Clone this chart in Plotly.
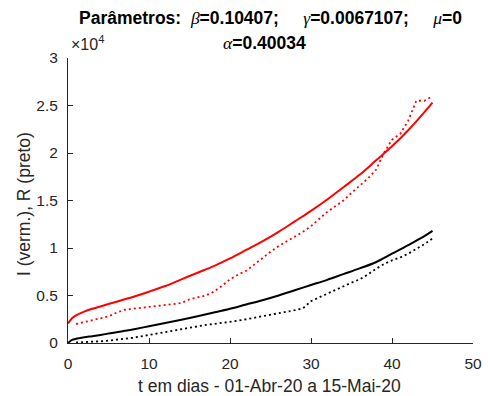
import plotly.graph_objects as go

# ---- Data ----
t_data = list(range(1, 46))
I_data = [2000, 2200, 2400, 2600, 2800, 3200, 3500, 3600, 3700, 3800,
          3900, 4000, 4100, 4200, 4600, 4800, 5000, 5400, 6000, 6700,
          7200, 7600, 8300, 8900, 9600, 10200, 10700, 11200, 11700, 12300,
          13100, 13800, 14400, 15000, 15800, 16500, 17300, 18200, 20000, 21400,
          22000, 23400, 25500, 25500, 26000]
R_data = [50, 80, 120, 180, 250, 330, 420, 550, 700, 850,
          1050, 1200, 1350, 1500, 1650, 1800, 1900, 2000, 2100, 2200,
          2350, 2500, 2650, 2800, 2950, 3100, 3250, 3450, 3650, 4400,
          4800, 5200, 5600, 6000, 6350, 6700, 7200, 7800, 8300, 8700,
          9000, 9400, 9900, 10400, 11000]

t_model = [0, 0.5, 1, 2, 3, 4, 5, 6, 7, 8, 10, 12, 14, 16, 18, 20, 22, 24,
           26, 28, 30, 32, 34, 36, 38, 40, 42, 44, 45]
I_model = [2050, 2600, 2900, 3300, 3600, 3850, 4100, 4350, 4600, 4850, 5400,
           6000, 6700, 7400, 8100, 8900, 9800, 10700, 11700, 12800, 13900,
           15100, 16400, 17700, 19200, 20700, 22400, 24300, 25300]
R_model = [0, 320, 450, 600, 720, 850, 990, 1130, 1280, 1430, 1760,
           2100, 2450, 2820, 3200, 3600, 4050, 4500, 5000, 5550, 6100,
           6650, 7250, 7850, 8500, 9400, 10300, 11250, 11800]

x_ticks = [0, 10, 20, 30, 40, 50]
y_ticks = [0, 5000, 10000, 15000, 20000, 25000, 30000]
y_tick_labels = ["0", "0.5", "1", "1.5", "2", "2.5", "3"]

AX = "#262626"
FONT = "Liberation Sans, Arial, sans-serif"

W, H = 488, 396
ML, MR, MT, MB = 68, 15, 58, 53
PH = H - MT - MB
PW = W - ML - MR


def ypaper(px):
    return (H - MB - px) / PH


def xpaper(px):
    return (px - ML) / PW


def greek(ch):
    return '<span style="font-family:Liberation Serif, DejaVu Serif, serif"><i>' + ch + '</i></span>'


fig = go.Figure()
fig.add_trace(go.Scatter(x=t_model, y=I_model, mode="lines", line=dict(color="#ff0000", width=2), line_shape="spline"))
fig.add_trace(go.Scatter(x=t_data, y=I_data, mode="lines", line=dict(color="#ff0000", width=1.8, dash="2px,3px")))
fig.add_trace(go.Scatter(x=t_model, y=R_model, mode="lines", line=dict(color="#000000", width=2), line_shape="spline"))
fig.add_trace(go.Scatter(x=t_data, y=R_data, mode="lines", line=dict(color="#000000", width=1.8, dash="2px,3px")))

sp_a = "&nbsp;" * 2
sp_b = "&nbsp;" * 5
title_line1 = ("<b>Parâmetros:</b>" + sp_a + greek("β") + "<b>=0.10407;</b>" + sp_b + greek("γ")
               + "<b>=0.0067107;</b>" + sp_b + greek("μ") + "<b>=0</b>")
title_line2 = greek("α") + "<b>=0.40034</b>"

fig.update_layout(
    width=W, height=H,
    margin=dict(l=ML, r=MR, t=MT, b=MB, autoexpand=False),
    paper_bgcolor="white", plot_bgcolor="white",
    showlegend=False,
    font=dict(family=FONT, size=15, color=AX),
    xaxis=dict(range=[0, 50], tickvals=x_ticks, ticks="inside", ticklen=5,
               tickcolor=AX, showline=True, linecolor=AX, linewidth=1,
               showgrid=False, zeroline=False, mirror=False, automargin=False,
               tickfont=dict(size=15.5, color=AX), ticklabelstandoff=6),
    yaxis=dict(range=[0, 30000], tickvals=y_ticks, ticktext=y_tick_labels,
               ticks="inside", ticklen=5, tickcolor=AX, showline=True,
               linecolor=AX, linewidth=1, showgrid=False, zeroline=False,
               automargin=False,
               tickfont=dict(size=15.5, color=AX), ticklabelstandoff=6),
    annotations=[
        dict(text=title_line1, x=xpaper(270), xref="paper", y=ypaper(18), yref="paper",
             showarrow=False, font=dict(size=17.5, color="#000000"),
             yanchor="middle", xanchor="center"),
        dict(text=title_line2, x=xpaper(264), xref="paper", y=ypaper(43), yref="paper",
             showarrow=False, font=dict(size=17.5, color="#000000"),
             yanchor="middle", xanchor="center"),
        dict(text="×10<sup>4</sup>", x=xpaper(69), xref="paper", y=ypaper(43), yref="paper",
             xanchor="left", yanchor="middle", showarrow=False,
             font=dict(size=16, color=AX)),
        dict(text="t em dias - 01-Abr-20 a 15-Mai-20", x=xpaper(269), xref="paper",
             y=ypaper(386), yref="paper", xanchor="center", yanchor="middle",
             showarrow=False, font=dict(size=17.5, color=AX)),
        dict(text="I (verm.), R (preto)", x=xpaper(24), xref="paper",
             y=ypaper(204), yref="paper", xanchor="center", yanchor="middle",
             textangle=-90, showarrow=False, font=dict(size=17.5, color=AX)),
    ],
)

fig.write_html("out.html")
